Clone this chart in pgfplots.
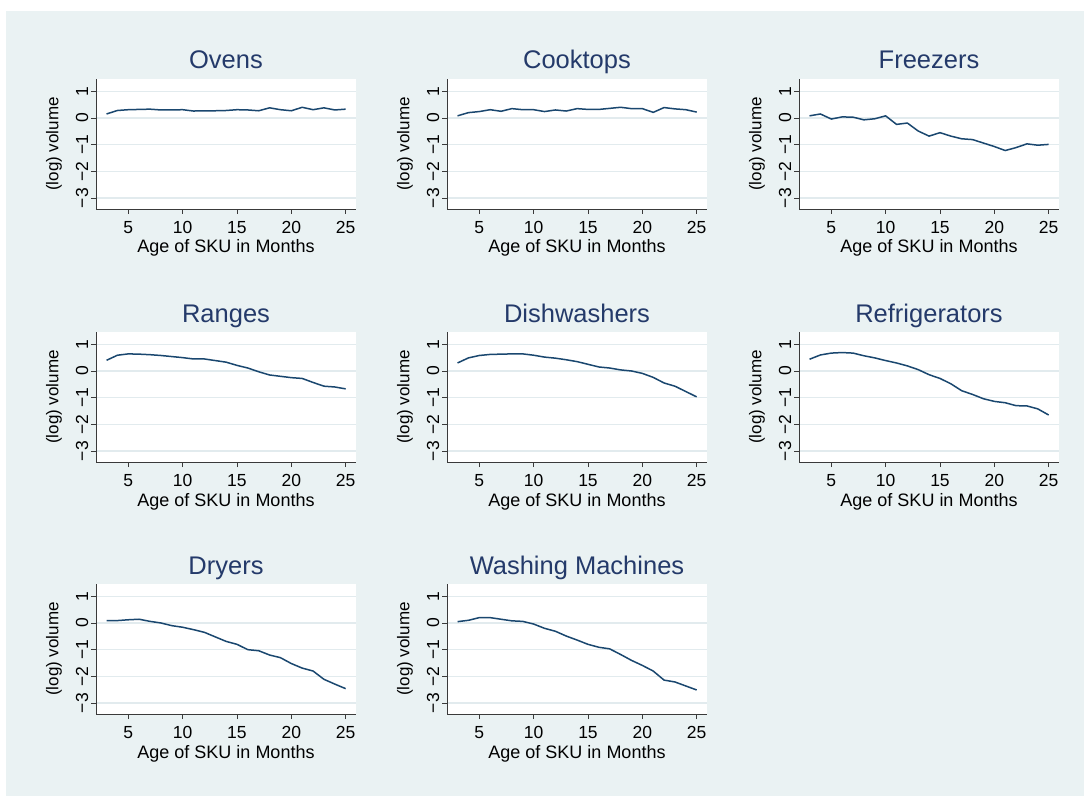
\documentclass[border=0pt]{standalone}
\usepackage{fontspec}
\setmainfont{Liberation Sans}
\usepackage{pgfplots}
\usepackage{pgfplotstable}
\pgfplotsset{compat=1.18}
\definecolor{bgc}{HTML}{EAF2F3}
\definecolor{gridc}{HTML}{E2EBEE}
\definecolor{linec}{HTML}{1A476F}
\definecolor{titlec}{HTML}{243A6A}
\definecolor{axc}{HTML}{3A3A3A}

\pgfplotstableread{
x  ov   ck   fz    rg    dw    rf    dr    wm
3  0.15 0.08 0.08  0.40  0.30  0.44  0.09  0.05
4  0.28 0.20 0.15  0.59  0.49  0.60  0.09  0.10
5  0.31 0.24 -0.04 0.64  0.58  0.67  0.12  0.20
6  0.32 0.31 0.04  0.63  0.62  0.69  0.14  0.20
7  0.33 0.25 0.03  0.61  0.63  0.67  0.06  0.14
8  0.30 0.35 -0.07 0.58  0.64  0.57  0.00  0.08
9  0.30 0.31 -0.03 0.54  0.64  0.49  -0.10 0.06
10 0.31 0.31 0.08  0.50  0.59  0.39  -0.16 -0.04
11 0.26 0.24 -0.24 0.45  0.52  0.30  -0.25 -0.20
12 0.27 0.30 -0.19 0.45  0.48  0.19  -0.35 -0.31
13 0.27 0.26 -0.49 0.39  0.42  0.05  -0.52 -0.49
14 0.28 0.35 -0.68 0.33  0.35  -0.14 -0.69 -0.64
15 0.31 0.32 -0.55 0.21  0.25  -0.28 -0.80 -0.80
16 0.30 0.32 -0.68 0.11  0.15  -0.48 -1.00 -0.91
17 0.27 0.36 -0.78 -0.03 0.11  -0.74 -1.04 -0.97
18 0.38 0.40 -0.81 -0.15 0.04  -0.88 -1.20 -1.18
19 0.31 0.35 -0.94 -0.20 0.00  -1.04 -1.30 -1.40
20 0.27 0.35 -1.07 -0.25 -0.09 -1.14 -1.52 -1.59
21 0.40 0.21 -1.22 -0.28 -0.24 -1.19 -1.69 -1.80
22 0.31 0.39 -1.11 -0.43 -0.45 -1.30 -1.80 -2.14
23 0.38 0.34 -0.97 -0.57 -0.57 -1.31 -2.11 -2.21
24 0.30 0.31 -1.02 -0.60 -0.77 -1.42 -2.29 -2.36
25 0.33 0.22 -0.99 -0.67 -0.97 -1.65 -2.46 -2.51
}\data

\pgfplotsset{
 ser/.style={draw=linec, line width=1.5pt, mark=none, line join=round},
 panel/.style={
  scale only axis, width=260pt, height=130pt, anchor=south west,
  xmin=2.03, xmax=25.95, ymin=-3.41, ymax=1.46,
  axis x line*=bottom, axis y line*=left,
  axis line style={-, axc, line width=0.8pt},
  axis background/.style={fill=white},
  xtick={5,10,15,20,25}, xticklabels={5,10,15,20,25},
  ytick={-3,-2,-1,0,1}, yticklabels={−3,−2,−1,0,1},
  tick align=outside, major tick length=5pt,
  tick style={axc, line width=0.8pt},
  ymajorgrids, grid style={gridc, line width=1.2pt},
  ticklabel style={font=\fontsize{17.5}{20}\selectfont, text=black},
  xticklabel style={yshift=-4pt},
  yticklabel style={rotate=90, anchor=base, yshift=3pt},
  xlabel={Age of SKU in Months}, ylabel={(log) volume},
  xlabel style={font=\fontsize{18}{21}\selectfont, text=black,
    at={(axis description cs:0.5,0)}, anchor=base, yshift=-44pt},
  ylabel style={font=\fontsize{17}{20}\selectfont, text=black,
    at={(axis description cs:-0.145,0.5)}, anchor=base},
  title style={font=\fontsize{25.5}{30}\selectfont, color=titlec,
    at={(axis description cs:0.5,1)}, anchor=base, yshift=4pt},
 }}

\begin{document}
\begin{tikzpicture}
\fill[white] (0pt,0pt) rectangle (1084pt,796pt);
\fill[bgc] (6pt,0pt) rectangle (1084pt,785pt);

\begin{axis}[panel, at={(96pt,587pt)}, title={Ovens}]
\addplot[ser] table[x=x,y=ov]{\data};
\end{axis}
\begin{axis}[panel, at={(447pt,587pt)}, title={Cooktops}]
\addplot[ser] table[x=x,y=ck]{\data};
\end{axis}
\begin{axis}[panel, at={(799pt,587pt)}, title={Freezers}]
\addplot[ser] table[x=x,y=fz]{\data};
\end{axis}

\begin{axis}[panel, at={(96pt,334pt)}, title={Ranges}]
\addplot[ser] table[x=x,y=rg]{\data};
\end{axis}
\begin{axis}[panel, at={(447pt,334pt)}, title={Dishwashers}]
\addplot[ser] table[x=x,y=dw]{\data};
\end{axis}
\begin{axis}[panel, at={(799pt,334pt)}, title={Refrigerators}]
\addplot[ser] table[x=x,y=rf]{\data};
\end{axis}

\begin{axis}[panel, at={(96pt,82pt)}, title={Dryers}]
\addplot[ser] table[x=x,y=dr]{\data};
\end{axis}
\begin{axis}[panel, at={(447pt,82pt)}, title={Washing Machines}]
\addplot[ser] table[x=x,y=wm]{\data};
\end{axis}
\end{tikzpicture}
\end{document}
